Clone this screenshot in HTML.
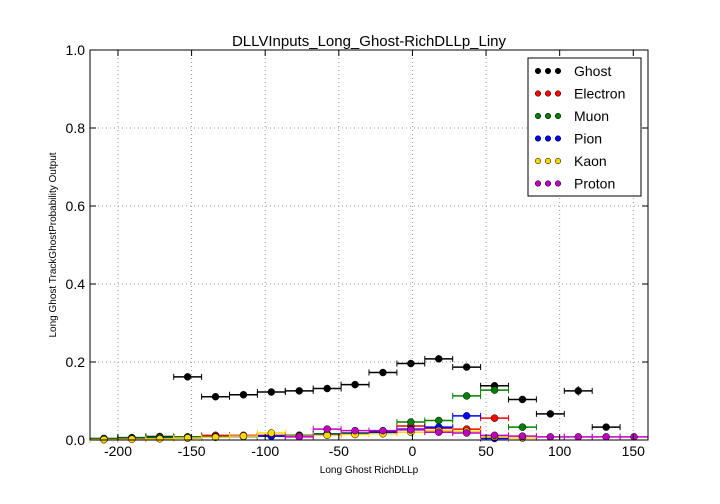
<!DOCTYPE html>
<html><head><meta charset="utf-8"><style>
html,body{margin:0;padding:0;background:#fff;}
svg{display:block;font-family:"Liberation Sans","DejaVu Sans",sans-serif;}
</style></head><body>
<svg id="chart" width="720" height="504" viewBox="0 0 720 504">
<rect x="0" y="0" width="720" height="504" fill="#fff"/>
<text x="369" y="46" text-anchor="middle" font-size="15">DLLVInputs_Long_Ghost-RichDLLp_Liny</text>
<g id="grid"></g>
<g id="series"></g>
<rect x="90" y="50" width="558" height="390" fill="none" stroke="#000" stroke-width="1"/>
<g id="ticks"></g>
<text x="369" y="473" text-anchor="middle" font-size="10">Long Ghost RichDLLp</text>
<text transform="translate(56,245) rotate(-90)" text-anchor="middle" font-size="10">Long Ghost TrackGhostProbability Output</text>
<g id="legend">
<rect x="528" y="58" width="113" height="138" fill="#fff" stroke="#000" stroke-width="1"/>
</g>
</svg>
<script>
const xTicks=[-200,-150,-100,-50,0,50,100,150];
const yTicks=[0.0,0.2,0.4,0.6,0.8,1.0];
const binStart=-219, binWidth=18.95, nBins=20;
const seriesNames=["Ghost","Electron","Muon","Pion","Kaon","Proton"];
const seriesColors=["#000000","#ff0000","#008000","#0000ff","#ffd700","#bf00bf"];
const ghost=[0.004,0.006,0.009,0.162,0.111,0.116,0.123,0.126,0.132,0.142,0.173,0.196,0.208,0.187,0.139,0.104,0.067,0.126,0.033,null];
const electron=[0.002,0.004,0.006,0.008,0.012,0.012,0.012,0.012,0.015,0.018,0.022,0.036,0.030,0.028,0.056,null,null,null,null,null];
const muon=[0.003,0.005,0.007,0.008,0.009,0.010,0.010,0.012,0.016,0.018,0.021,0.046,0.050,0.113,0.128,0.033,null,null,null,null];
const pion=[0.001,0.003,0.004,0.005,0.008,0.009,0.010,0.011,0.014,0.016,0.020,0.028,0.033,0.062,0.004,null,null,null,null,null];
const kaon=[0.001,0.002,0.003,0.005,0.007,0.010,0.018,0.010,0.012,0.014,0.016,0.020,0.024,0.022,0.008,0.005,null,null,null,null];
const proton=[null,null,null,null,null,null,null,0.008,0.028,0.024,0.024,0.026,0.020,0.018,0.012,0.010,0.008,0.008,0.008,0.008];
const ghostErr=[0,0,0,0.004,0.005,0.004,0.004,0.004,0.004,0.004,0.004,0.004,0.004,0.004,0.005,0.005,0.005,0.012,0.004,0];
const allSeries=[ghost,electron,muon,pion,kaon,proton];

const NS="http://www.w3.org/2000/svg";
const X0=90,X1=648,Y0=440,Y1=50,xmin=-219,xmax=160;
function xs(v){return X0+(v-xmin)/(xmax-xmin)*(X1-X0);}
function ys(v){return Y0-(v-0)/(1-0)*(Y0-Y1);}
function mk(tag,attrs,parent){const e=document.createElementNS(NS,tag);for(const k in attrs)e.setAttribute(k,attrs[k]);parent.appendChild(e);return e;}
const grid=document.getElementById('grid'),ticks=document.getElementById('ticks'),ser=document.getElementById('series'),leg=document.getElementById('legend');
xTicks.forEach(t=>{const x=xs(t);
 const g=mk('line',{x1:x,x2:x,y1:Y1,y2:Y0,stroke:'#999','stroke-dasharray':'1,3'},grid);
 
 
 mk('line',{x1:x,x2:x,y1:Y0,y2:Y0-6,stroke:'#000'},ticks);
 mk('line',{x1:x,x2:x,y1:Y1,y2:Y1+6,stroke:'#000'},ticks);
 const l=mk('text',{x:x,y:Y0+16,'text-anchor':'middle','font-size':14},ticks);l.textContent=t;
 
 
});
yTicks.forEach(t=>{const y=ys(t);
 const g=mk('line',{x1:X0,x2:X1,y1:y,y2:y,stroke:'#999','stroke-dasharray':'1,3'},grid);
 
 
 mk('line',{x1:X0,x2:X0+6,y1:y,y2:y,stroke:'#000'},ticks);
 mk('line',{x1:X1,x2:X1-6,y1:y,y2:y,stroke:'#000'},ticks);
 const l=mk('text',{x:X0-5,y:y+5,'text-anchor':'end','font-size':14},ticks);l.textContent=t.toFixed(1);
 
 
});
allSeries.forEach((arr,si)=>{const c=seriesColors[si];
 const g=mk('g',{},ser);
 
 
 arr.forEach((v,i)=>{if(v===null)return;
  const lo=binStart+i*binWidth,hi=lo+binWidth,cx=xs(lo+binWidth/2),cy=ys(v);
  mk('line',{x1:xs(lo),x2:xs(hi),y1:cy,y2:cy,stroke:c,'stroke-width':1.5},g);
  mk('line',{x1:xs(lo),x2:xs(lo),y1:cy-3,y2:cy+3,stroke:c},g);
  mk('line',{x1:xs(hi),x2:xs(hi),y1:cy-3,y2:cy+3,stroke:c},g);
  if(si===0&&ghostErr[i]>0){mk('line',{x1:cx,x2:cx,y1:ys(v-ghostErr[i]),y2:ys(v+ghostErr[i]),stroke:c},g);}
  const p=mk('circle',{cx:cx,cy:cy,r:3.5,fill:c,stroke:'#000','stroke-width':0.5},g);
  
  
 });
});
seriesNames.forEach((n,i)=>{const y=71+i*22.5;
 const e=mk('g',{},leg);
 
 
 [538,548,558].forEach(x=>mk('circle',{cx:x,cy:y,r:2.8,fill:seriesColors[i],stroke:'#000','stroke-width':0.5},e));
 const t=mk('text',{x:574,y:y+5,'font-size':14},e);t.textContent=n;
});
</script>
</body></html>
